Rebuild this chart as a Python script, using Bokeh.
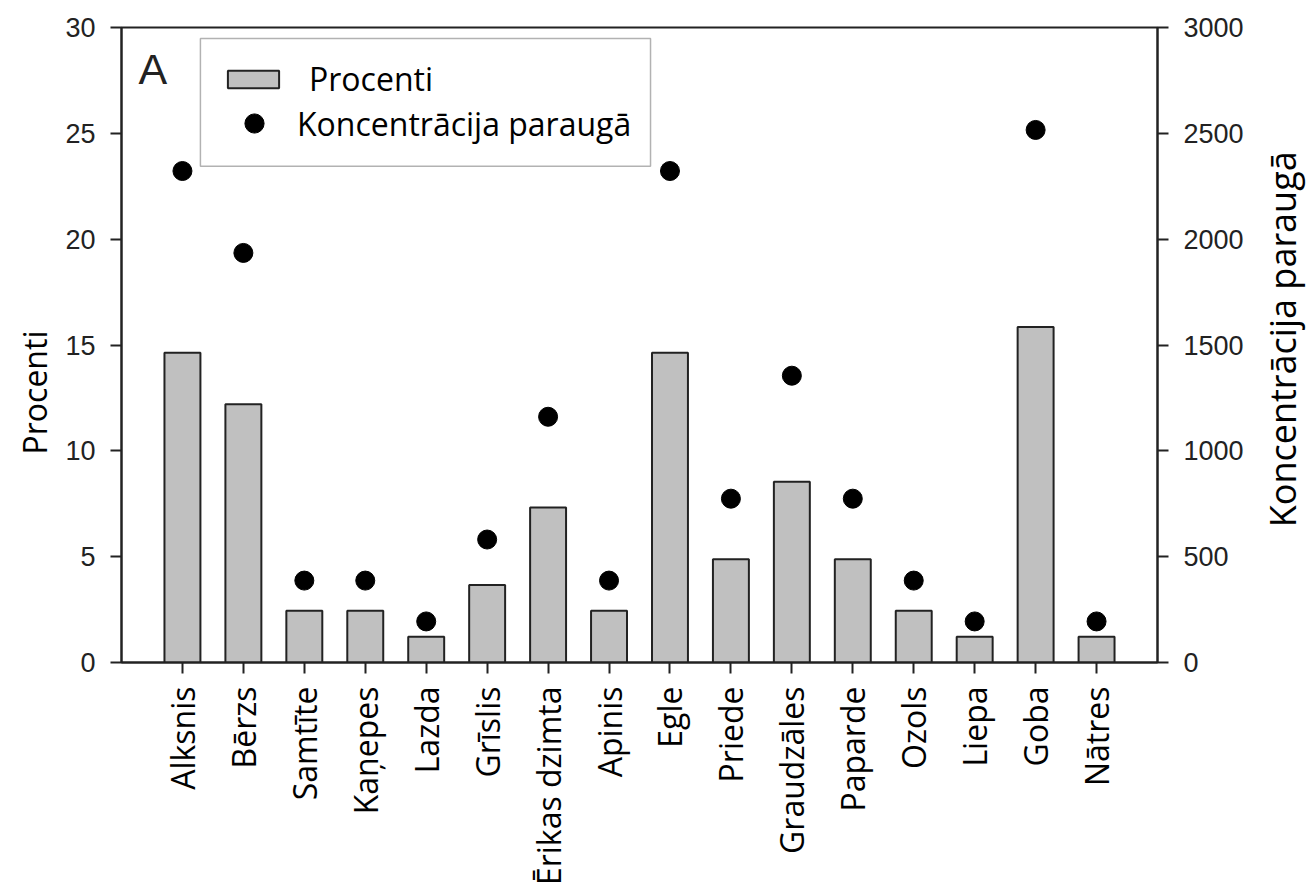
import math
from bokeh.plotting import figure
from bokeh.layouts import row
from bokeh.models import (FactorRange, Range1d, LinearAxis, FixedTicker, Legend,
                          LegendItem, Label, Title, BoxAnnotation, ColumnDataSource)
from bokeh.embed import file_html
from bokeh.resources import INLINE

categories = ["Alksnis", "Bērzs", "Samtīte", "Kaņepes", "Lazda", "Grīslis",
              "Ērikas dzimta", "Apinis", "Egle", "Priede", "Graudzāles",
              "Paparde", "Ozols", "Liepa", "Goba", "Nātres"]
procenti = [14.63, 12.20, 2.44, 2.44, 1.22, 3.66, 7.32, 2.44, 14.63, 4.88,
            8.54, 4.88, 2.44, 1.22, 15.85, 1.22]
koncentracija = [2322, 1935, 387, 387, 194, 581, 1161, 387, 2322, 774, 1355,
                 774, 387, 194, 2516, 194]
left_ticks = [0, 5, 10, 15, 20, 25, 30]
right_ticks = [0, 500, 1000, 1500, 2000, 2500, 3000]

src = ColumnDataSource(dict(cat=categories, pct=procenti, conc=koncentracija))

TICK_FONT = "Liberation Sans"
TEXT_FONT = "Open Sans"
INK = "#222222"

p = figure(width=1257, height=888, output_backend="svg", toolbar_location=None,
           x_range=FactorRange(factors=categories, range_padding=0.5,
                               range_padding_units="absolute"),
           y_range=Range1d(0, 30),
           min_border_left=121, min_border_right=100,
           min_border_top=27, min_border_bottom=225)
p.extra_y_ranges = {"conc": Range1d(0, 3000)}

p.xgrid.visible = False
p.ygrid.visible = False
p.outline_line_color = INK
p.outline_line_width = 2
p.background_fill_color = "white"
p.border_fill_color = "white"

bars = p.vbar(x="cat", top="pct", width=0.59, source=src,
              fill_color="#c0c0c0", line_color=INK, line_width=2)
dots = p.scatter(x="cat", y="conc", source=src, y_range_name="conc",
                 size=19, fill_color="black", line_color="black")

def style_axis(ax):
    ax.major_label_text_font = TICK_FONT
    ax.major_label_text_font_size = "27px"
    ax.major_label_text_color = INK
    ax.major_label_standoff = 15
    ax.major_tick_out = 11
    ax.major_tick_in = 0
    ax.minor_tick_out = 0
    ax.minor_tick_in = 0
    ax.axis_line_width = 2
    ax.axis_line_color = INK
    ax.major_tick_line_width = 2
    ax.major_tick_line_color = INK

# left axis
ya = p.yaxis[0]
ya.ticker = FixedTicker(ticks=left_ticks)
style_axis(ya)

p.add_layout(Title(text="Procenti", align="left", offset=208,
                   text_font=TEXT_FONT, text_font_size="32px",
                   text_font_style="normal", text_color="black",
                   standoff=13), "left")

# right axis
ra = LinearAxis(y_range_name="conc", ticker=FixedTicker(ticks=right_ticks))
style_axis(ra)
p.add_layout(ra, "right")

# bottom axis
xa = p.xaxis[0]
style_axis(xa)
xa.major_label_orientation = math.pi / 2
xa.major_label_text_font = TEXT_FONT
xa.major_label_text_font_size = "32px"
xa.major_label_text_color = "black"
xa.major_label_standoff = 13

# panel letter
p.add_layout(Label(x=-0.22, y=28.02, text="A", text_align="left",
                   text_baseline="alphabetic", text_font=TICK_FONT,
                   text_font_size="43px", text_color=INK))

# legend frame
p.add_layout(BoxAnnotation(left=0.795, right=8.181, top=29.48, bottom=23.44,
                           fill_color="white", fill_alpha=1.0,
                           line_color="black", line_width=1.5))

leg1 = Legend(items=[LegendItem(label="Procenti", renderers=[bars])],
              location=(100, 562), label_text_font=TEXT_FONT,
              label_text_font_size="32px", label_text_color="black",
              glyph_width=64, glyph_height=22, label_standoff=24,
              padding=0, spacing=0, margin=0,
              border_line_alpha=0, background_fill_alpha=0)
leg2 = Legend(items=[LegendItem(label="Koncentrācija paraugā", renderers=[dots])],
              location=(101, 515), label_text_font=TEXT_FONT,
              label_text_font_size="32px", label_text_color="black",
              glyph_width=64, glyph_height=48, label_standoff=11,
              padding=0, spacing=0, margin=0,
              border_line_alpha=0, background_fill_alpha=0)
p.add_layout(leg1, "center")
p.add_layout(leg2, "center")

# narrow strip on the right carrying the right-axis title (reads bottom to top)
p2 = figure(width=52, height=888, output_backend="svg", toolbar_location=None,
            x_range=Range1d(0, 52), y_range=Range1d(0, 888),
            x_axis_location=None, y_axis_location=None,
            min_border=0, min_border_left=0, min_border_right=0,
            min_border_top=0, min_border_bottom=0)
p2.outline_line_color = None
p2.background_fill_color = "white"
p2.border_fill_color = "white"
p2.xgrid.visible = False
p2.ygrid.visible = False
p2.add_layout(Label(x=25, y=452, text="Koncentrācija paraugā",
                    angle=math.pi / 2, text_align="center",
                    text_baseline="middle", text_font=TEXT_FONT,
                    text_font_size="36px", text_color="black"))

open("out.html", "w").write(file_html(row(p, p2), INLINE))
